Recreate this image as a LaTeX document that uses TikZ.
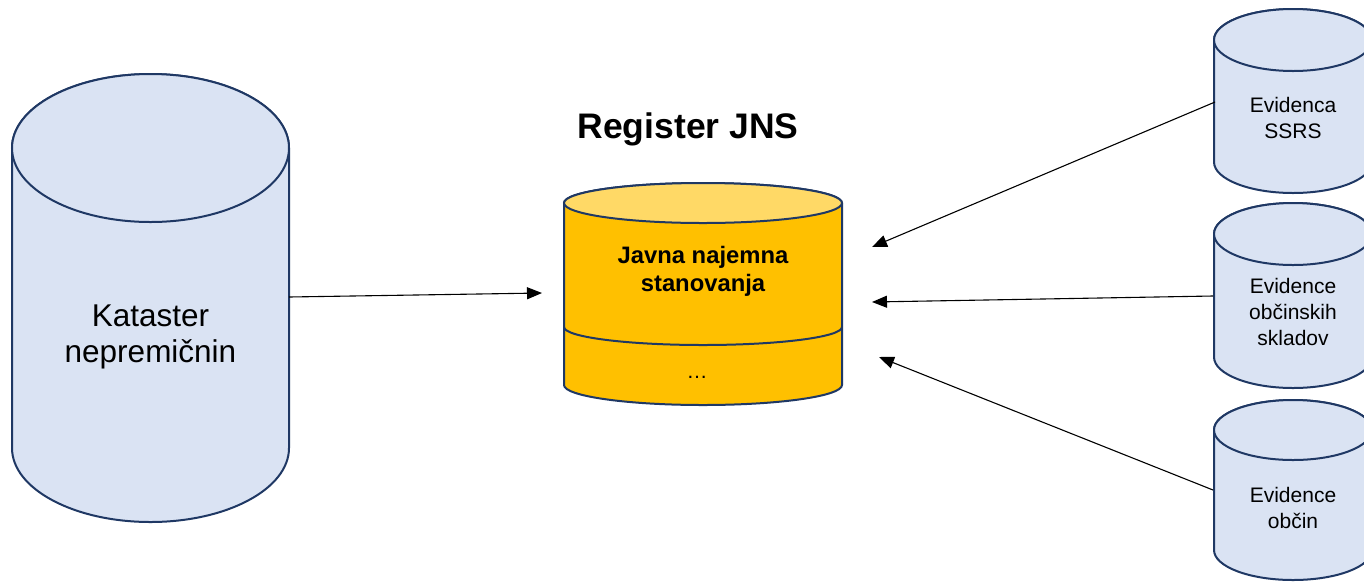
\documentclass[tikz,border=0pt]{standalone}
\usepackage{fontspec}
\setmainfont{Liberation Sans}
\usetikzlibrary{arrows.meta}
\definecolor{cylline}{HTML}{1F3864}
\definecolor{cylblue}{HTML}{DAE3F3}
\definecolor{cylgold}{HTML}{FFC000}
\definecolor{cylgoldtop}{HTML}{FFD966}
% #1 cx, #2 top centre y, #3 bottom centre y, #4 rx, #5 ry, #6 body fill, #7 top fill
\newcommand{\dbcylinder}[7]{%
  \path[cylstroke, fill=#6] (#1-#4,#2) -- (#1-#4,#3)
     arc[start angle=180, end angle=360, x radius=#4, y radius=#5]
     -- (#1+#4,#2) arc[start angle=0, end angle=180, x radius=#4, y radius=#5] -- cycle;
  \path[cylstroke, fill=#7] (#1,#2) ellipse[x radius=#4, y radius=#5];
}
\tikzset{
  cylstroke/.style={draw=cylline, line width=2pt},
  conn/.style={draw=black, line width=1.1pt, -{Triangle[length=15pt,width=12pt]}},
  bigtxt/.style={align=center, font=\fontsize{31.5}{36}\selectfont, inner sep=0pt},
  smalltxt/.style={align=center, font=\fontsize{21}{26}\selectfont, inner sep=0pt},
  boldtxt/.style={align=center, font=\fontsize{23.8}{28}\selectfont\bfseries, inner sep=0pt},
  titletxt/.style={align=center, font=\fontsize{35.5}{40}\selectfont\bfseries, inner sep=0pt},
}
\begin{document}
\begin{tikzpicture}[x=1pt, y=1pt]
\useasboundingbox (0,0) rectangle (1364,-582);
\clip (0,0) rectangle (1364,-582);
\fill[white] (0,0) rectangle (1364,-582);

% left cylinder
\dbcylinder{150.5}{-148}{-448}{138.5}{74}{cylblue}{cylblue}
% central cylinder
\dbcylinder{703}{-203}{-385}{139}{20}{cylgold}{cylgoldtop}
\draw[cylstroke] (564,-327) arc[start angle=180, end angle=360, x radius=139, y radius=18];
% right cylinders
\dbcylinder{1293}{-40}{-162}{79}{31}{cylblue}{cylblue}
\dbcylinder{1293}{-234}{-357}{79}{31}{cylblue}{cylblue}
\dbcylinder{1293}{-430}{-550}{79}{30}{cylblue}{cylblue}

% texts
\node[bigtxt] (kat) at (150.5,-337) {Kataster\\nepremičnin};
\node[titletxt] (title) at (688,-129) {Register JNS};
\node[boldtxt] (jns) at (703,-271) {Javna najemna\\stanovanja};
\node[smalltxt] (dots) at (697,-377) {\dots};
\node[smalltxt] (ssrs) at (1293,-118) {Evidenca\\SSRS};
\node[smalltxt] (skl) at (1293,-312) {Evidence\\občinskih\\skladov};
\node[smalltxt] (obc) at (1293,-508) {Evidence\\občin};

% connector end points
\coordinate (kat-e) at (289,-297);
\coordinate (reg-w) at (542,-293);
\coordinate (ssrs-w) at (1215,-102);
\coordinate (reg-ne) at (872,-247);
\coordinate (skl-w) at (1213,-296);
\coordinate (reg-e) at (872,-302);
\coordinate (obc-w) at (1213,-490);
\coordinate (reg-se) at (879,-357);

\draw[conn] (kat-e) -- (reg-w);
\draw[conn] (ssrs-w) -- (reg-ne);
\draw[conn] (skl-w) -- (reg-e);
\draw[conn] (obc-w) -- (reg-se);
\end{tikzpicture}
\end{document}
